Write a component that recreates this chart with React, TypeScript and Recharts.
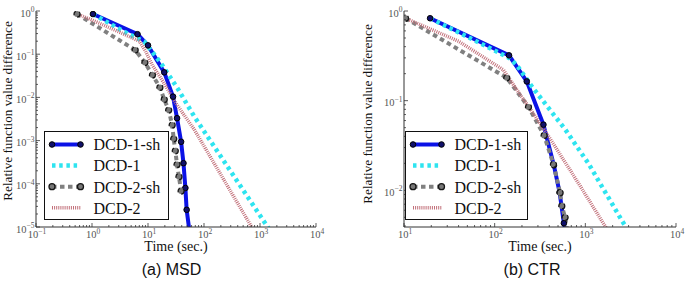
import React from 'react';
import { LineChart, Line, XAxis, YAxis, Legend } from 'recharts';

// ---- data (time in sec., relative difference) ----
const MSD_DCD1SH_T = [1.04, 6.5, 10, 19.5, 28, 33, 39, 43, 46.5, 49, 59];
const MSD_DCD1SH_V = [0.85, 0.29, 0.16, 0.038, 0.0104, 0.0033, 0.00094, 0.0003, 0.00008, 0.000025, 0.000004];
const MSD_DCD1_T = [1.04, 4.3, 8.6, 17, 34, 67, 1500];
const MSD_DCD1_V = [0.85, 0.3, 0.195, 0.062, 0.016, 0.0036, 0.0000084];
const MSD_DCD2SH_T = [0.54, 5.9, 8.8, 12, 16.3, 19.5, 23.4, 27, 28.8, 30.7, 33, 35.7, 39];
const MSD_DCD2SH_V = [0.85, 0.125, 0.064, 0.033, 0.017, 0.009, 0.0051, 0.0023, 0.0011, 0.00058, 0.00028, 0.000146, 0.000068];
const MSD_DCD2_T = [0.54, 1, 3, 7, 9, 12, 20, 30, 67, 760];
const MSD_DCD2_V = [0.85, 0.62, 0.33, 0.2, 0.12, 0.055, 0.02, 0.008, 0.0018, 0.0000086];

const CTR_DCD1SH_T = [19.4, 144, 226, 345, 450, 520, 580, 640];
const CTR_DCD1SH_V = [0.83, 0.32, 0.164, 0.054, 0.019, 0.0095, 0.0043, 0.0024];
const CTR_DCD1_T = [19.4, 60, 144, 175, 257, 392, 598, 1080, 2530, 3000];
const CTR_DCD1_V = [0.83, 0.47, 0.3, 0.25, 0.144, 0.083, 0.048, 0.02, 0.0046, 0.0035];
const CTR_DCD2SH_T = [10.4, 136, 236, 351, 445, 527, 550, 598, 640];
const CTR_DCD2SH_V = [0.83, 0.18, 0.085, 0.041, 0.0195, 0.0094, 0.0067, 0.005, 0.0033];
const CTR_DCD2_T = [10.4, 40, 125, 182, 260, 360, 840, 1700];
const CTR_DCD2_V = [0.83, 0.46, 0.22, 0.125, 0.075, 0.046, 0.012, 0.0038];

const SERIES_NAMES = ['DCD-1-sh', 'DCD-1', 'DCD-2-sh', 'DCD-2'];
const MSD_X_DOMAIN = [0.1, 10000];
const MSD_Y_DOMAIN = [0.00001, 1];
const CTR_X_DOMAIN = [10, 10000];
const CTR_Y_DOMAIN = [0.0039, 1];

const SERIF = '"Liberation Serif", "Times New Roman", serif';
const SANS = '"Liberation Sans", Arial, sans-serif';
const FRAME = '#333';
const TICK_TEXT = '#555';

const STYLES = [
  { stroke: '#0b12e6', width: 4, dash: undefined, dot: { r: 2.8, fill: '#10106a', stroke: '#000', strokeWidth: 1 } },
  { stroke: '#2ee4f0', width: 4.5, dash: '3.5 3.7', dot: null },
  { stroke: '#808080', width: 4, dash: '4.5 3.5', dot: { r: 3, fill: '#777', stroke: '#161616', strokeWidth: 1.3 } },
  { stroke: '#c2707a', width: 3.5, dash: '1 1.1', dot: null },
];

const zip = (t: number[], v: number[]) => t.map((x, i) => ({ x, y: v[i] }));

// major decades plus the 2..9 minor ticks inside a domain
function logTicks(lo: number, hi: number) {
  const out: number[] = [];
  for (let e = Math.floor(Math.log10(lo)); e <= Math.ceil(Math.log10(hi)); e++) {
    for (let m = 1; m < 10; m++) {
      const v = m * Math.pow(10, e);
      if (v >= lo * 0.9999 && v <= hi * 1.0001) out.push(v);
    }
  }
  return out;
}

const isMajor = (v: number) => Math.abs(Math.log10(v) - Math.round(Math.log10(v))) < 1e-6;

function Pow({ x, y, v, anchor }: { x: number; y: number; v: number; anchor: string }) {
  const e = Math.round(Math.log10(v));
  return (
    <text x={x} y={y} textAnchor={anchor} fontFamily={SERIF} fontSize={10.5} fill={TICK_TEXT}>
      10
      <tspan dy={-4.5} fontSize={7.5}>{e < 0 ? `\u2212${-e}` : `${e}`}</tspan>
    </text>
  );
}

// eslint-disable-next-line @typescript-eslint/no-explicit-any
function BottomTick({ x, y, payload }: any) {
  const major = isMajor(payload.value);
  return (
    <g>
      <line x1={x} x2={x} y1={y} y2={y - (major ? 4 : 2)} stroke={FRAME} strokeWidth={0.8} />
      {major && <Pow x={x + 1} y={y + 11} v={payload.value} anchor="middle" />}
    </g>
  );
}

// eslint-disable-next-line @typescript-eslint/no-explicit-any
function TopTick({ x, y, payload }: any) {
  const major = isMajor(payload.value);
  return <line x1={x} x2={x} y1={y} y2={y + (major ? 4 : 2)} stroke={FRAME} strokeWidth={0.8} />;
}

// eslint-disable-next-line @typescript-eslint/no-explicit-any
function LeftTick({ x, y, payload }: any) {
  const major = isMajor(payload.value);
  return (
    <g>
      <line x1={x} x2={x + (major ? 4 : 2)} y1={y} y2={y} stroke={FRAME} strokeWidth={0.8} />
      {major && <Pow x={x - 1.5} y={y + 5.5} v={payload.value} anchor="end" />}
    </g>
  );
}

// eslint-disable-next-line @typescript-eslint/no-explicit-any
function RightTick({ x, y, payload }: any) {
  const major = isMajor(payload.value);
  return <line x1={x} x2={x - (major ? 4 : 2)} y1={y} y2={y} stroke={FRAME} strokeWidth={0.8} />;
}

function LegendBox({ width }: { width: number }) {
  return (
    <svg width={width} height={89} style={{ display: 'block' }}>
      <rect x={0.5} y={0.5} width={width - 1} height={88} fill="#fff" stroke="#111" strokeWidth={1} />
      {SERIES_NAMES.map((name, i) => {
        const s = STYLES[i];
        const cy = 13.5 + i * 21.1;
        return (
          <g key={name}>
            <line x1={8} x2={36.5} y1={cy} y2={cy} stroke={s.stroke} strokeWidth={s.width} strokeDasharray={s.dash} />
            {s.dot && <circle cx={8} cy={cy} {...s.dot} />}
            {s.dot && <circle cx={36.5} cy={cy} {...s.dot} />}
            <text x={49.5} y={cy + 5.8} fontFamily={SERIF} fontSize={16} fill="#111">
              {name}
            </text>
          </g>
        );
      })}
    </svg>
  );
}

interface PanelProps {
  width: number;
  yAxisWidth: number;
  marginRight: number;
  xDomain: number[];
  yDomain: number[];
  series: { x: number; y: number }[][];
  caption: string;
  captionDx: number;
  yLabelX: number;
  yLabelCy: number;
  legendLeft: number;
  legendWidth: number;
}

function Panel(p: PanelProps) {
  const xTicks = logTicks(p.xDomain[0], p.xDomain[1]);
  const yTicks = logTicks(p.yDomain[0], p.yDomain[1]);
  return (
    <LineChart width={p.width} height={282} margin={{ top: 11, right: p.marginRight, left: 0, bottom: 0 }}>
      <XAxis
        dataKey="x"
        type="number"
        scale="log"
        domain={p.xDomain}
        allowDataOverflow
        ticks={xTicks}
        interval={0}
        tick={<BottomTick />}
        tickLine={false}
        tickSize={0}
        tickMargin={0}
        height={55}
        axisLine={{ stroke: FRAME, strokeWidth: 1 }}
        label={{
          // eslint-disable-next-line @typescript-eslint/no-explicit-any
          content: ({ viewBox }: any) => (
            <g>
              <text x={viewBox.x + viewBox.width / 2} y={viewBox.y + 24} textAnchor="middle" fontFamily={SERIF} fontSize={14} fill="#111">
                Time (sec.)
              </text>
              <text x={viewBox.x + viewBox.width / 2 + p.captionDx} y={viewBox.y + 48} textAnchor="middle" fontFamily={SANS} fontSize={16} fill="#111">
                {p.caption}
              </text>
            </g>
          ),
        }}
      />
      <XAxis
        xAxisId="top"
        orientation="top"
        dataKey="x"
        type="number"
        scale="log"
        domain={p.xDomain}
        allowDataOverflow
        ticks={xTicks}
        interval={0}
        tick={<TopTick />}
        tickLine={false}
        tickSize={0}
        tickMargin={0}
        height={0}
        axisLine={{ stroke: FRAME, strokeWidth: 1 }}
      />
      <YAxis
        type="number"
        scale="log"
        domain={p.yDomain}
        allowDataOverflow
        ticks={yTicks}
        interval={0}
        tick={<LeftTick />}
        tickLine={false}
        tickSize={0}
        tickMargin={0}
        width={p.yAxisWidth}
        axisLine={{ stroke: FRAME, strokeWidth: 1 }}
        label={{
          // eslint-disable-next-line @typescript-eslint/no-explicit-any
          content: () => (
            <text
              x={p.yLabelX}
              y={p.yLabelCy}
              transform={`rotate(-90 ${p.yLabelX} ${p.yLabelCy})`}
              textAnchor="middle"
              fontFamily={SERIF}
              fontSize={13.2}
              fill="#111"
            >
              Relative function value difference
            </text>
          ),
        }}
      />
      <YAxis
        yAxisId="right"
        orientation="right"
        type="number"
        scale="log"
        domain={p.yDomain}
        allowDataOverflow
        ticks={yTicks}
        interval={0}
        tick={<RightTick />}
        tickLine={false}
        tickSize={0}
        tickMargin={0}
        width={0}
        axisLine={{ stroke: FRAME, strokeWidth: 1 }}
      />
      {p.series.map((data, i) => {
        const s = STYLES[i];
        return (
          <Line
            key={SERIES_NAMES[i]}
            name={SERIES_NAMES[i]}
            data={data}
            dataKey="y"
            type="linear"
            stroke={s.stroke}
            strokeWidth={s.width}
            strokeDasharray={s.dash}
            dot={s.dot ? s.dot : false}
            activeDot={false}
            isAnimationActive={false}
          />
        );
      })}
      <Legend
        layout="vertical"
        align="center"
        verticalAlign="middle"
        wrapperStyle={{ left: p.legendLeft, top: 131, width: p.legendWidth, height: 89 }}
        content={() => <LegendBox width={p.legendWidth} />}
      />
    </LineChart>
  );
}

export default function App() {
  return (
    <div style={{ position: 'absolute', left: 0, top: 0, width: 686, height: 282, background: '#fff' }}>
      <div style={{ position: 'absolute', left: 0, top: 0 }}>
        <Panel
          width={345}
          yAxisWidth={36}
          marginRight={29}
          xDomain={MSD_X_DOMAIN}
          yDomain={MSD_Y_DOMAIN}
          series={[
            zip(MSD_DCD1SH_T, MSD_DCD1SH_V),
            zip(MSD_DCD1_T, MSD_DCD1_V),
            zip(MSD_DCD2SH_T, MSD_DCD2SH_V),
            zip(MSD_DCD2_T, MSD_DCD2_V),
          ]}
          caption="(a) MSD"
          captionDx={-4.5}
          yLabelX={12}
          yLabelCy={111}
          legendLeft={43.5}
          legendWidth={125}
        />
      </div>
      <div style={{ position: 'absolute', left: 345, top: 0 }}>
        <Panel
          width={341}
          yAxisWidth={59}
          marginRight={10}
          xDomain={CTR_X_DOMAIN}
          yDomain={CTR_Y_DOMAIN}
          series={[
            zip(CTR_DCD1SH_T, CTR_DCD1SH_V),
            zip(CTR_DCD1_T, CTR_DCD1_V),
            zip(CTR_DCD2SH_T, CTR_DCD2SH_V),
            zip(CTR_DCD2_T, CTR_DCD2_V),
          ]}
          caption="(b) CTR"
          captionDx={-8}
          yLabelX={27}
          yLabelCy={114}
          legendLeft={59.5}
          legendWidth={123}
        />
      </div>
    </div>
  );
}
